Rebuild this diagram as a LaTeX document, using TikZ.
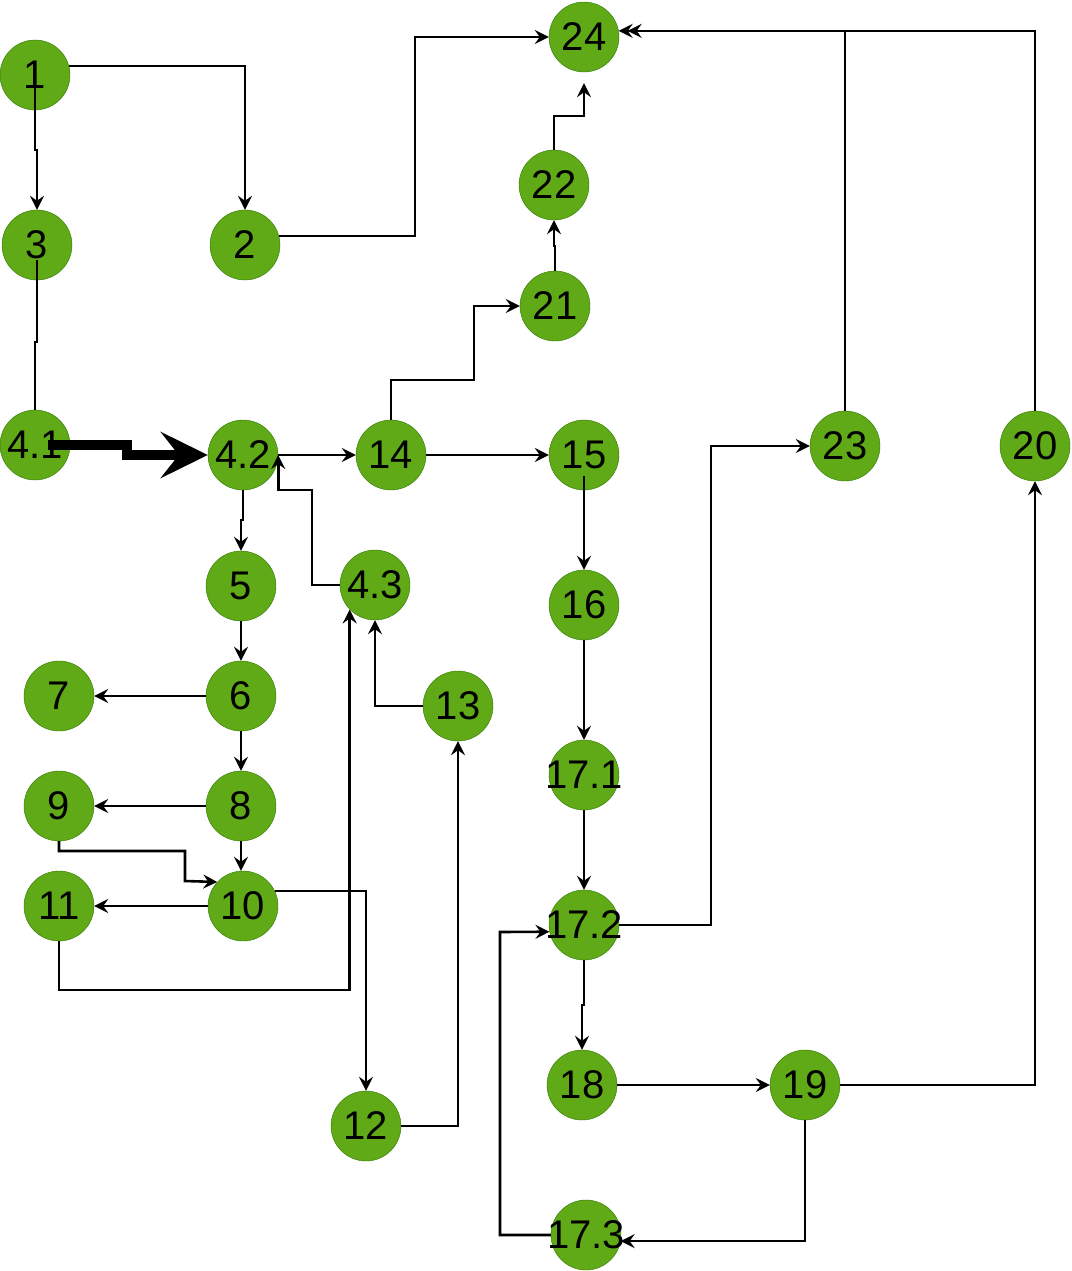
\documentclass[tikz,border=0pt]{standalone}
\usepackage{fontspec}
\setmainfont{Liberation Sans}
\usetikzlibrary{arrows.meta}

\definecolor{nodegreen}{HTML}{60A917}
\definecolor{nodeedge}{HTML}{2D7600}

\begin{document}
\begin{tikzpicture}[x=1pt, y=-1pt,
      vertex/.style={circle, draw=nodeedge, fill=nodegreen, minimum size=70pt, inner sep=0pt, font=\fontsize{40}{42}\selectfont},
      wide/.style={inner sep=-6pt},
      link/.style={line width=2.6pt, -{Stealth[length=14pt, width=14pt, inset=5pt]}},
      plain/.style={line width=2.6pt},
      bigarrow/.style={line width=10pt, -{Stealth[length=47pt, width=46pt, inset=18pt]}}]

              \useasboundingbox (0,0) rectangle (1071,1271);

              \node[vertex] (n1) at (35,75) {1};
              \node[vertex] (n3) at (37,245) {3};
              \node[vertex] (n2) at (245,245) {2};
              \node[vertex] (n24) at (584,37) {24};
              \node[vertex] (n22) at (554,185) {22};
              \node[vertex] (n21) at (555,306) {21};

              \node[vertex] (n41) at (35,445) {4.1};
              \node[vertex] (n42) at (243,455) {4.2};
              \node[vertex] (n14) at (391,455) {14};
              \node[vertex] (n15) at (584,455) {15};
              \node[vertex] (n23) at (845,446) {23};
              \node[vertex] (n20) at (1035,446) {20};

              \node[vertex] (n5) at (241,586) {5};
              \node[vertex] (n43) at (375,585) {4.3};
              \node[vertex] (n16) at (584,605) {16};
              \node[vertex] (n7) at (59,696) {7};
              \node[vertex] (n6) at (241,696) {6};
              \node[vertex] (n13) at (458,706) {13};
              \node[vertex, wide] (n171) at (584,775) {17.1};
              \node[vertex] (n9) at (59,806) {9};
              \node[vertex] (n8) at (241,806) {8};
              \node[vertex] (n11) at (59,906) {11};
              \node[vertex] (n10) at (243,906) {10};
              \node[vertex, wide] (n172) at (584,925) {17.2};
              \node[vertex] (n18) at (582,1085) {18};
              \node[vertex] (n19) at (805,1085) {19};
              \node[vertex] (n12) at (366,1126) {12};
              \node[vertex, wide] (n173) at (586,1235) {17.3};

              % top part
              \draw[link, shorten <=13pt] (n1.center) -- (35,150) -| (n3.north);
              \draw[link] (n1.15) -| (n2.north);
              \draw[link] (n2.15) -| (415,37) -- (n24.west);
              \draw[plain, shorten <=15pt] (n3.center) -- (37,342) -| (n41.north);
              \draw[link] (n21.north) -- (555,246) -| (n22.south);
              \draw[link, shorten >=11pt] (n22.north) |- (584,116) -- (n24.south);
              \draw[link, shorten >=9pt] (n23.north) |- (n24.10);
              \draw[link] (n20.north) |- (n24.10);

              % the thick one
              \draw[bigarrow, shorten <=13pt] (n41.center) -- (127,445) |- (n42.west);

              \draw[link] (n42.east) -- (n14.west);
              \draw[link] (n42.south) -- (243,520) -| (n5.north);
              \draw[link] (n43.west) -| (312,490) -| (n42.east);
              \draw[link] (n14.east) -- (n15.west);
              \draw[link] (n14.north) |- (474,380) |- (n21.west);

              % left column
              \draw[link] (n5.south) -- (n6.north);
              \draw[link] (n6.west) -- (n7.east);
              \draw[link] (n6.south) -- (n8.north);
              \draw[link] (n8.west) -- (n9.east);
              \draw[link] (n8.south) -- (n8.south |- n10.north);
              \draw[link] (n9.south) -- (59,851) -| (185,881) -- (n10.137);
              \draw[link] (n10.west) -- (n11.east);
              \draw[link] (n10.25) -| (n12.north);
              \draw[link] (n11.south) -- (59,990) -| (n43.224);
              \draw[link] (n12.east) -| (n13.south);
              \draw[link] (n13.west) -| (n43.south);

              % right column
              \draw[link, shorten <=21pt] (n15.center) -- (n16.north);
              \draw[link] (n16.south) -- (n171.north);
              \draw[link] (n171.south) -- (n172.north);
              \draw[link] (n172.east) -- (711,925) |- (n23.west);
              \draw[link] (n172.south) -- (584,1005) -| (n18.north);
              \draw[link] (n18.east) -- (n19.west);
              \draw[link] (n19.east) -| (n20.south);
              \draw[link] (n19.south) |- (n173.-10);
              \draw[link] (n173.west) -| (500,932) -- (n172.191);

\end{tikzpicture}
\end{document}
